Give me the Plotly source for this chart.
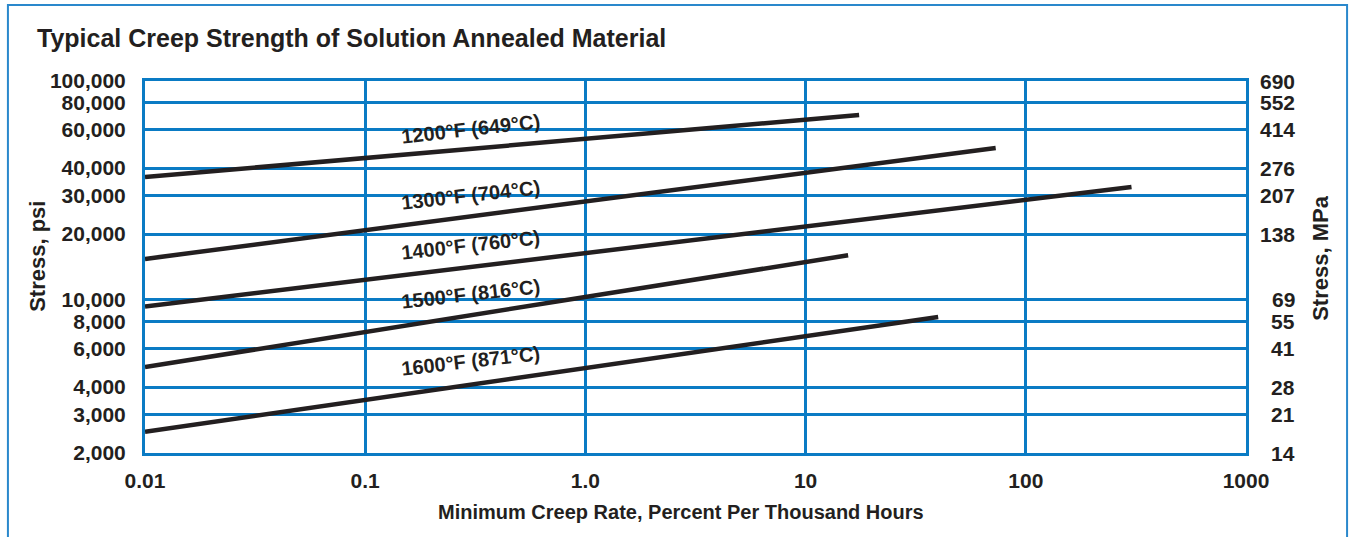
import numpy as np
import plotly.graph_objects as go

# Creep-rate axis ticks (percent per thousand hours)
x_tickvals = [0.01, 0.1, 1, 10, 100, 1000]
x_ticktext = ["0.01", "0.1", "1.0", "10", "100", "1000"]

# Stress axis ticks (psi) and matching MPa labels on the right side
psi_tickvals = [100000, 80000, 60000, 40000, 30000, 20000, 10000, 8000, 6000, 4000, 3000, 2000]
psi_ticktext = ["100,000", "80,000", "60,000", "40,000", "30,000", "20,000",
                "10,000", "8,000", "6,000", "4,000", "3,000", "2,000"]
mpa_ticktext = ["690", "552", "414", "276", "207", "138", "69", "55", "41", "28", "21", "14"]

# Temperature curves: (creep rate start, end) and (stress start, end)
temps = ["1200°F (649°C)", "1300°F (704°C)", "1400°F (760°C)", "1500°F (816°C)", "1600°F (871°C)"]
rate_1200 = [0.01, 17.5]
stress_1200 = [36400, 69900]
rate_1300 = [0.01, 73]
stress_1300 = [15400, 49400]
rate_1400 = [0.01, 302]
stress_1400 = [9340, 32800]
rate_1500 = [0.01, 15.6]
stress_1500 = [4940, 16000]
rate_1600 = [0.01, 40]
stress_1600 = [2500, 8360]

# Label anchor points along each curve (creep rate, stress)
label_rate = [0.30, 0.30, 0.30, 0.30, 0.30]
label_stress = [60400, 30200, 17800, 10700, 5250]

rates = [rate_1200, rate_1300, rate_1400, rate_1500, rate_1600]
stresses = [stress_1200, stress_1300, stress_1400, stress_1500, stress_1600]

BLUE = "#0a7bc4"
INK = "#231f20"
FONT = "Liberation Sans, Arial, sans-serif"

fig = go.Figure()
for name, r, s in zip(temps, rates, stresses):
    fig.add_trace(go.Scatter(x=r, y=s, mode="lines", name=name,
                             line=dict(color=INK, width=4.5), showlegend=False,
                             hoverinfo="skip"))

annotations = []
for name, lx, ly in zip(temps, label_rate, label_stress):
    annotations.append(dict(x=np.log10(lx), y=np.log10(ly), xref="x", yref="y",
                            text=name, showarrow=False, textangle=-6.5,
                            font=dict(family=FONT, size=20, color=INK, weight="bold")))

# MPa labels on the right, right-aligned
for val, txt in zip(psi_tickvals, mpa_ticktext):
    annotations.append(dict(x=1.0463, y=np.log10(val), xref="paper", yref="y",
                            text=txt, showarrow=False, xanchor="right", yanchor="middle",
                            font=dict(family=FONT, size=21, color=INK, weight="bold")))

annotations += [
    dict(x=0.487, y=-0.158, xref="paper", yref="paper",
         text="Minimum Creep Rate, Percent Per Thousand Hours", showarrow=False,
         xanchor="center", yanchor="middle",
         font=dict(family=FONT, size=20, color=INK, weight="bold")),
    dict(x=-0.0972, y=0.53, xref="paper", yref="paper", text="Stress, psi",
         showarrow=False, textangle=-90, xanchor="center", yanchor="middle",
         font=dict(family=FONT, size=22, color=INK, weight="bold")),
    dict(x=1.067, y=0.524, xref="paper", yref="paper", text="Stress, MPa",
         showarrow=False, textangle=-90, xanchor="center", yanchor="middle",
         font=dict(family=FONT, size=22, color=INK, weight="bold")),
]

fig.update_layout(
    width=1349, height=537,
    margin=dict(l=145, r=103, t=81, b=84),
    paper_bgcolor="white", plot_bgcolor="white",
    title=dict(text="Typical Creep Strength of Solution Annealed Material",
               x=37 / 1349, xanchor="left", y=1 - 38 / 537, yanchor="middle",
               xref="container", yref="container",
               font=dict(family=FONT, size=25, color=INK, weight="bold")),
    annotations=annotations,
    shapes=[dict(type="path", xref="paper", yref="paper",
                 path="M -0.1245 -0.3 L -0.1245 1.2043 L 1.0918 1.2043 L 1.0918 -0.3",
                 line=dict(color="#2a88cc", width=2), layer="above")],
)

fig.update_xaxes(type="log", range=[-2, 3], tickvals=x_tickvals, ticktext=x_ticktext,
                 showgrid=True, gridcolor=BLUE, gridwidth=2.5, zeroline=False,
                 showline=True, linecolor=BLUE, linewidth=3, mirror=True,
                 ticks="", ticklabelstandoff=7,
                 tickfont=dict(family=FONT, size=21, color=INK, weight="bold"))
fig.update_yaxes(type="log", range=[np.log10(2000), 5], tickvals=psi_tickvals,
                 ticktext=psi_ticktext,
                 showgrid=True, gridcolor=BLUE, gridwidth=2.5, zeroline=False,
                 showline=True, linecolor=BLUE, linewidth=3, mirror=True,
                 ticks="", ticklabelstandoff=12,
                 tickfont=dict(family=FONT, size=21, color=INK, weight="bold"))

fig.write_html("out.html")
